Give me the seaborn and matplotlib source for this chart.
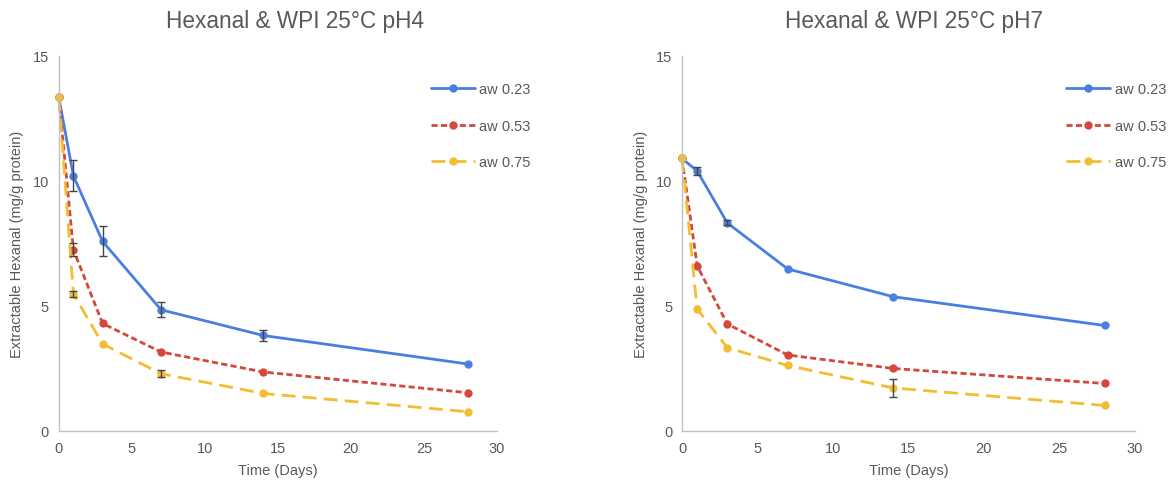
import numpy as np
import pandas as pd
import matplotlib
matplotlib.use("Agg")
import matplotlib.pyplot as plt
import seaborn as sns

days = [0, 1, 3, 7, 14, 28]
series_names = ["aw 0.23", "aw 0.53", "aw 0.75"]

ph4_aw023 = [13.35, 10.2, 7.58, 4.85, 3.82, 2.68]
ph4_aw053 = [13.35, 7.25, 4.3, 3.16, 2.36, 1.53]
ph4_aw075 = [13.35, 5.48, 3.48, 2.29, 1.5, 0.77]
ph4_err023 = [0.0, 0.62, 0.6, 0.3, 0.22, 0.0]
ph4_err053 = [0.0, 0.25, 0.0, 0.0, 0.0, 0.0]
ph4_err075 = [0.0, 0.12, 0.0, 0.14, 0.0, 0.0]

ph7_aw023 = [10.9, 10.4, 8.32, 6.48, 5.37, 4.22]
ph7_aw053 = [10.9, 6.6, 4.28, 3.04, 2.5, 1.9]
ph7_aw075 = [10.9, 4.88, 3.33, 2.62, 1.72, 1.02]
ph7_err023 = [0.0, 0.15, 0.1, 0.0, 0.0, 0.0]
ph7_err053 = [0.0, 0.0, 0.0, 0.0, 0.0, 0.0]
ph7_err075 = [0.0, 0.0, 0.0, 0.0, 0.35, 0.0]

titles = ["Hexanal & WPI 25°C pH4", "Hexanal & WPI 25°C pH7"]
title_x = [0.539, 0.512]

colors = {"aw 0.23": "#4a7fe0", "aw 0.53": "#d5473a", "aw 0.75": "#f2bd32"}
dashes = {"aw 0.23": "", "aw 0.53": (2.2, 1.2), "aw 0.75": (5, 2.6)}

sns.set_theme(style="white")
plt.rcParams['font.family'] = ['Liberation Sans', 'DejaVu Sans']
text_col = "#595959"

fig = plt.figure(figsize=(11.76, 4.85), dpi=100)
axes = [fig.add_axes([0.050, 0.1093, 0.3726, 0.7732]),
        fig.add_axes([0.580, 0.1093, 0.385, 0.7732])]

panels = [
    (ph4_aw023, ph4_aw053, ph4_aw075, ph4_err023, ph4_err053, ph4_err075),
    (ph7_aw023, ph7_aw053, ph7_aw075, ph7_err023, ph7_err053, ph7_err075),
]

for ax, title, tx, (a, b, c, ea, eb, ec) in zip(axes, titles, title_x, panels):
    df = pd.DataFrame({
        "Day": days * 3,
        "Value": a + b + c,
        "Err": ea + eb + ec,
        "Series": [s for s in series_names for _ in days],
    })
    sns.lineplot(data=df, x="Day", y="Value", hue="Series", style="Series",
                 palette=colors, dashes=dashes, markers={s: "o" for s in series_names},
                 markersize=6, markeredgewidth=0, linewidth=2, ax=ax, clip_on=False)
    ed = df[df["Err"] > 0]
    ax.errorbar(ed["Day"], ed["Value"], yerr=ed["Err"], fmt="none",
                ecolor="#444444", elinewidth=1, capsize=3, capthick=1, zorder=5)
    ax.set_xlim(0, 30)
    ax.set_ylim(0, 15)
    ax.set_xticks([0, 5, 10, 15, 20, 25, 30])
    ax.set_yticks([0, 5, 10, 15])
    ax.tick_params(axis="both", labelsize=10.5, colors=text_col, length=0, pad=7)
    ax.set_xlabel("Time (Days)", fontsize=10.5, color=text_col, labelpad=6)
    ax.set_ylabel("Extractable Hexanal (mg/g protein)", fontsize=10.5, color=text_col, labelpad=6)
    ax.set_title(title, fontsize=16.3, color=text_col, pad=21, x=tx)
    for side in ["top", "right"]:
        ax.spines[side].set_visible(False)
    for side in ["left", "bottom"]:
        ax.spines[side].set_color("#c0c0c0")
        ax.spines[side].set_linewidth(1)
    leg = ax.legend(loc="upper left", bbox_to_anchor=(0.82, 0.965), frameon=False,
                    fontsize=10.5, labelspacing=1.55, handlelength=3.0, handletextpad=0.3)
    for t in leg.get_texts():
        t.set_color(text_col)

fig.savefig("out.png", dpi=100, facecolor="white")
